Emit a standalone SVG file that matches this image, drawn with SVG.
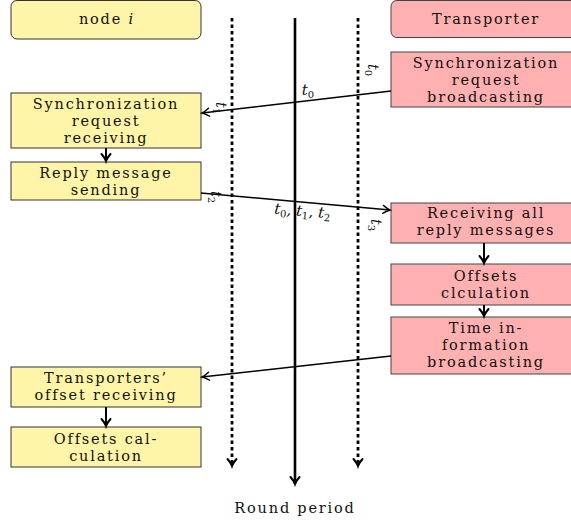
<svg xmlns="http://www.w3.org/2000/svg" width="571" height="522" viewBox="0 0 571 522">
<defs>
<marker id="ah" markerWidth="12" markerHeight="12" refX="9" refY="6" orient="auto" markerUnits="userSpaceOnUse">
<path d="M2,2 Q6,5 9,6 Q6,7 2,10" fill="none" stroke="#000" stroke-width="1.4" stroke-linecap="round"/>
</marker>
<marker id="ahb" markerWidth="14" markerHeight="14" refX="10" refY="7" orient="auto" markerUnits="userSpaceOnUse">
<path d="M3,2.5 Q7,6 10,7 Q7,8 3,11.5" fill="none" stroke="#000" stroke-width="2" stroke-linecap="round"/>
</marker>
</defs>
<style>
.y{fill:#fff5a8;stroke:#333;stroke-width:1}
.p{fill:#ffb0b0;stroke:#444;stroke-width:1}
text{font-family:"DejaVu Serif","Liberation Serif",serif;font-size:14.5px;letter-spacing:1.8px;fill:#111;text-anchor:middle}
.m{font-style:italic;letter-spacing:0}
.s{font-size:10px;font-style:normal}
.conn line{stroke:#000;stroke-width:1.6}
</style>
<g id="node-i"><rect class="y" x="11" y="0.5" width="190" height="38.5" rx="6"/><text x="106" y="24">node <tspan class="m">i</tspan></text></g>
<g id="transporter"><rect class="p" x="391" y="0.5" width="190" height="37" rx="6"/><text x="486" y="24">Transporter</text></g>
<g id="sync-broadcast"><rect class="p" x="391" y="52" width="190" height="55"/><text x="486" y="68">Synchronization</text><text x="486" y="85">request</text><text x="486" y="102">broadcasting</text></g>
<g id="sync-receive"><rect class="y" x="11" y="93" width="190" height="55"/><text x="106" y="109">Synchronization</text><text x="106" y="126">request</text><text x="106" y="143">receiving</text></g>
<g id="reply-send"><rect class="y" x="11" y="162" width="190" height="38"/><text x="106" y="178">Reply message</text><text x="106" y="195">sending</text></g>
<g id="receive-all"><rect class="p" x="391" y="203" width="190" height="40"/><text x="486" y="218">Receiving all</text><text x="486" y="235">reply messages</text></g>
<g id="offsets-clc"><rect class="p" x="391" y="264" width="190" height="41"/><text x="486" y="281">Offsets</text><text x="486" y="298">clculation</text></g>
<g id="time-info"><rect class="p" x="391" y="317" width="190" height="57"/><text x="486" y="333">Time in-</text><text x="486" y="350">formation</text><text x="486" y="367">broadcasting</text></g>
<g id="transp-offset"><rect class="y" x="11" y="367" width="190" height="40"/><text x="106" y="383">Transporters’</text><text x="106" y="400">offset receiving</text></g>
<g id="offsets-calc"><rect class="y" x="11" y="427" width="190" height="40"/><text x="106" y="444">Offsets cal-</text><text x="106" y="461">culation</text></g>
<g id="timeline">
<line x1="232" y1="18" x2="232" y2="466" stroke="#000" stroke-width="2.8" stroke-dasharray="3.5,3" marker-end="url(#ahb)"/>
<line x1="358" y1="18" x2="358" y2="466" stroke="#000" stroke-width="2.8" stroke-dasharray="3.5,3" marker-end="url(#ahb)"/>
<line x1="295" y1="18" x2="295" y2="484" stroke="#000" stroke-width="2.6" marker-end="url(#ahb)"/>
<text x="295" y="513">Round period</text>
</g>
<g class="conn" id="connectors">
<line x1="106" y1="148" x2="106" y2="161" marker-end="url(#ahb)" style="stroke-width:2"/>
<line x1="106" y1="407" x2="106" y2="426" marker-end="url(#ahb)" style="stroke-width:2"/>
<line x1="484" y1="243" x2="484" y2="263" marker-end="url(#ahb)" style="stroke-width:2"/>
<line x1="484" y1="305" x2="484" y2="316" marker-end="url(#ahb)" style="stroke-width:2"/>
<line x1="391" y1="91" x2="202" y2="113" marker-end="url(#ah)"/>
<line x1="201" y1="193" x2="390" y2="210" marker-end="url(#ah)"/>
<line x1="391" y1="356" x2="202" y2="377" marker-end="url(#ah)"/>
</g>
<g id="labels">
<text x="308" y="95" class="m" style="font-size:15px">t<tspan class="s" dy="3">0</tspan></text>
<text transform="translate(368,70) rotate(90)" class="m" style="font-size:14px">t<tspan class="s" dy="3">0</tspan></text>
<text transform="translate(216,108) rotate(90)" class="m" style="font-size:14px">t<tspan class="s" dy="3">1</tspan></text>
<text transform="translate(211,197) rotate(90)" class="m" style="font-size:14px">t<tspan class="s" dy="3">2</tspan></text>
<text transform="translate(371,225) rotate(90)" class="m" style="font-size:14px">t<tspan class="s" dy="3">3</tspan></text>
<text transform="translate(302,216) rotate(5)" class="m" style="font-size:15px">t<tspan class="s" dy="3">0</tspan><tspan dy="-3">, t</tspan><tspan class="s" dy="3">1</tspan><tspan dy="-3">, t</tspan><tspan class="s" dy="3">2</tspan></text>
</g>
</svg>
